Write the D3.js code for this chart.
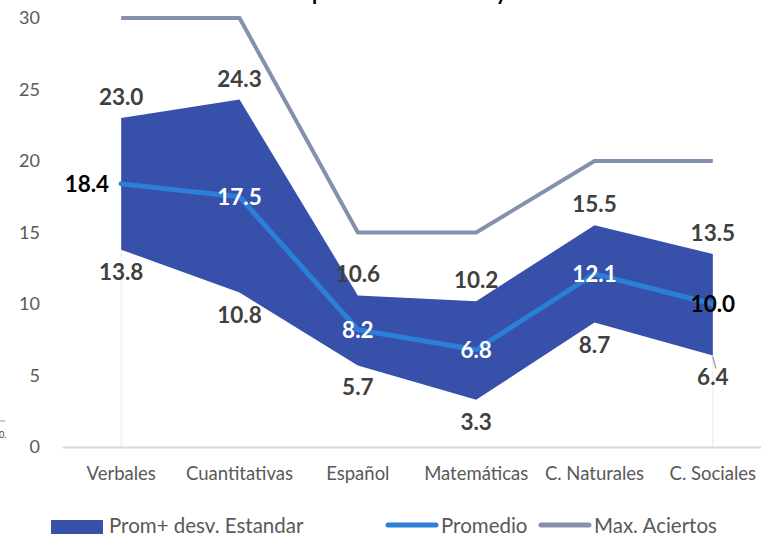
<!DOCTYPE html>
<html lang="es">
<head>
<meta charset="utf-8">
<title>Aciertos por prueba</title>
<script src="https://d3js.org/d3.v7.min.js"></script>
<style>
  body { margin: 0; background: #fff; }
  svg { display: block; font-family: Lato, "Noto Sans", sans-serif; }
</style>
</head>
<body>
<div id="chart"></div>
<script>
// data
var categories = ["Verbales", "Cuantitativas", "Español", "Matemáticas", "C. Naturales", "C. Sociales"];
var upperValues = [23.0, 24.3, 10.6, 10.2, 15.5, 13.5];   // promedio + desv.
var lowerValues = [13.8, 10.8, 5.7, 3.3, 8.7, 6.4];       // promedio - desv.
var meanValues = [18.4, 17.5, 8.2, 6.8, 12.1, 10.0];
var maxValues = [30, 30, 15, 15, 20, 20];
var yTicks = [0, 5, 10, 15, 20, 25, 30];
var legendLabels = ["Prom+ desv. Estandar", "Promedio", "Max. Aciertos"];

var width = 761, height = 536;
var colArea = "#3751ab", colMean = "#2b7fd6", colMax = "#8391ae";

var svg = d3.select("#chart").append("svg")
    .attr("width", width)
    .attr("height", height);

var x = d3.scaleBand()
    .domain(categories)
    .range([62, 772]);
var cx = function(i) { return x(categories[i]) + x.bandwidth() / 2; };

var y = d3.scaleLinear()
    .domain([0, 30])
    .range([447, 18]);

// title, mostly cut off at the top of the picture (only descenders show)
var title = svg.append("text")
    .attr("y", -0.5)
    .attr("font-size", 21)
    .attr("font-weight", "bold")
    .attr("fill", "#000")
    .text("Resultados por área de estudio y nivel");
var pIdx = title.text().indexOf("p");
title.attr("x", 312 - title.node().getSubStringLength(0, pIdx));

// y axis labels (no line)
var yAxis = d3.axisLeft(y).tickValues(yTicks).tickSize(0).tickPadding(0);
var yg = svg.append("g").attr("transform", "translate(40,0)").call(yAxis);
yg.select(".domain").remove();
yg.selectAll("text")
    .attr("font-family", "Lato, sans-serif")
    .attr("font-size", 18)
    .attr("fill", "#595959");

// faint edge lines of the lower (invisible) area
[0, categories.length - 1].forEach(function(i) {
    svg.append("line")
        .attr("x1", cx(i)).attr("x2", cx(i))
        .attr("y1", y(lowerValues[i])).attr("y2", y(0))
        .attr("stroke", "#ebebf0").attr("stroke-width", 1);
});

// x axis
var xAxis = d3.axisBottom(x).tickSize(0).tickPadding(20);
var xg = svg.append("g").attr("transform", "translate(0," + y(0) + ")").call(xAxis);
xg.select(".domain").attr("stroke", "#d9d9d9").attr("stroke-width", 2);
xg.selectAll("text")
    .attr("font-family", "Lato, sans-serif")
    .attr("font-size", 18.5)
    .attr("fill", "#595959");

// band between lower and upper
var band = d3.area()
    .x(function(d, i) { return cx(i); })
    .y0(function(d, i) { return y(lowerValues[i]); })
    .y1(function(d) { return y(d); });
svg.append("path")
    .datum(upperValues)
    .attr("d", band)
    .attr("fill", colArea);

var line = d3.line()
    .x(function(d, i) { return cx(i); })
    .y(function(d) { return y(d); });

svg.append("path")
    .datum(maxValues)
    .attr("d", line)
    .attr("fill", "none")
    .attr("stroke", colMax)
    .attr("stroke-width", 4);

svg.append("path")
    .datum(meanValues)
    .attr("d", line)
    .attr("fill", "none")
    .attr("stroke", colMean)
    .attr("stroke-width", 5)
    .attr("stroke-linejoin", "round")
    .attr("stroke-linecap", "round");

// leader line for the last lower label
var last = categories.length - 1;
svg.append("line")
    .attr("x1", cx(last)).attr("y1", y(lowerValues[last]) + 1)
    .attr("x2", cx(last) + 3).attr("y2", y(lowerValues[last]) + 13)
    .attr("stroke", "#a6a6a6").attr("stroke-width", 1.5);

var fmt = d3.format(".1f");
var labelStyle = function(sel) {
    sel.attr("text-anchor", "middle")
       .attr("font-size", 22.5)
       .attr("font-weight", "bold");
};

svg.selectAll(".lab-up").data(upperValues).enter().append("text")
    .attr("class", "lab-up")
    .call(labelStyle)
    .attr("x", function(d, i) { return cx(i); })
    .attr("y", function(d) { return y(d) - 13; })
    .attr("fill", "#404040")
    .text(fmt);

svg.selectAll(".lab-lo").data(lowerValues).enter().append("text")
    .attr("class", "lab-lo")
    .call(labelStyle)
    .attr("x", function(d, i) { return cx(i); })
    .attr("y", function(d) { return y(d) + 30; })
    .attr("fill", "#404040")
    .text(fmt);

svg.selectAll(".lab-mean").data(meanValues).enter().append("text")
    .attr("class", "lab-mean")
    .call(labelStyle)
    .attr("text-anchor", function(d, i) { return i === 0 ? "end" : "middle"; })
    .attr("x", function(d, i) { return i === 0 ? cx(i) - 12 : cx(i); })
    .attr("y", function(d) { return y(d) + 8; })
    .attr("fill", function(d, i) { return (i === 0 || i === last) ? "#000" : "#fff"; })
    .text(fmt);

// stray cut-off label at the far left
svg.append("line").attr("x1", 0).attr("x2", 5).attr("y1", 421).attr("y2", 421)
    .attr("stroke", "#999").attr("stroke-width", 1);
svg.append("text").attr("x", -1).attr("y", 438).attr("font-size", 9)
    .attr("fill", "#404040").text("0.");

// legend
var leg = svg.append("g").attr("font-size", 20.5).attr("fill", "#595959");
leg.append("rect").attr("x", 51).attr("y", 520).attr("width", 52).attr("height", 14).attr("fill", colArea);
leg.append("text").attr("x", 109).attr("y", 533).text(legendLabels[0]);
leg.append("line").attr("x1", 388).attr("x2", 436).attr("y1", 525).attr("y2", 525)
    .attr("stroke", colMean).attr("stroke-width", 5).attr("stroke-linecap", "round");
leg.append("text").attr("x", 441).attr("y", 533).text(legendLabels[1]);
leg.append("line").attr("x1", 541).attr("x2", 589).attr("y1", 525).attr("y2", 525)
    .attr("stroke", colMax).attr("stroke-width", 5).attr("stroke-linecap", "round");
leg.append("text").attr("x", 594).attr("y", 533).text(legendLabels[2]);
</script>
</body>
</html>
